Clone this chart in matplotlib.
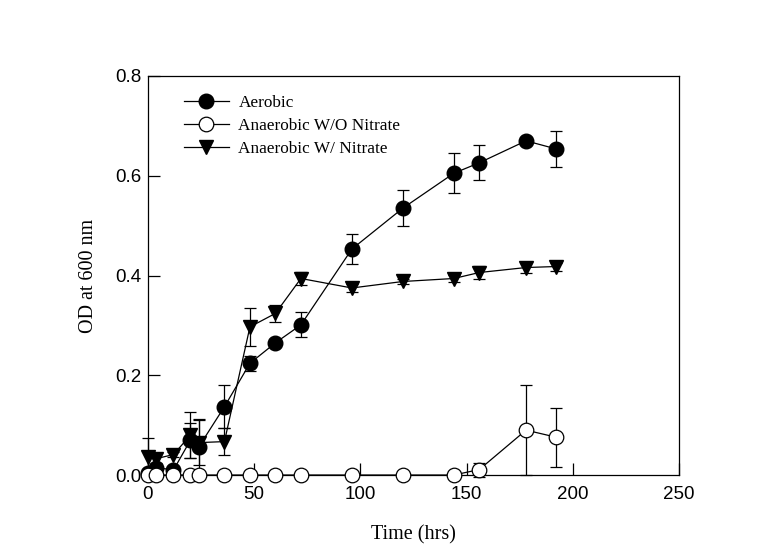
import matplotlib
matplotlib.use("Agg")
import matplotlib.pyplot as plt
from matplotlib.lines import Line2D

time_hrs = [0, 4, 12, 20, 24, 36, 48, 60, 72, 96, 120, 144, 156, 178, 192]

aerobic = [0.005, 0.015, 0.010, 0.070, 0.057, 0.137, 0.224, 0.265, 0.301,
           0.453, 0.535, 0.605, 0.626, 0.670, 0.654]
aerobic_err = [0.005, 0.010, 0.005, 0.035, 0.055, 0.043, 0.015, 0.008, 0.025,
               0.030, 0.036, 0.040, 0.035, 0.005, 0.036]

no_nitrate = [0, 0, 0, 0, 0, 0, 0, 0, 0, 0, 0, 0, 0.011, 0.090, 0.076]
no_nitrate_err = [0, 0, 0, 0, 0, 0, 0, 0, 0, 0, 0, 0, 0.014, 0.090, 0.059]

nitrate = [0.037, 0.033, 0.041, 0.080, 0.065, 0.067, 0.297, 0.324, 0.394,
           0.375, 0.388, 0.394, 0.406, 0.416, 0.418]
nitrate_err = [0.037, 0.010, 0.005, 0.046, 0.045, 0.027, 0.038, 0.017, 0.013,
               0.008, 0.006, 0.008, 0.014, 0.010, 0.008]

series_labels = ["Aerobic", "Anaerobic W/O Nitrate", "Anaerobic W/ Nitrate"]

serif = "Liberation Serif"
sans = "Liberation Sans"

fig = plt.figure(figsize=(7.74, 5.44), dpi=100)
ax = fig.add_axes([0.1912, 0.1268, 0.686, 0.7335])

common = dict(color="black", lw=0.9, ms=10.5, capsize=4.5, elinewidth=0.9,
              capthick=0.9, clip_on=False)

ax.errorbar(time_hrs, aerobic, yerr=aerobic_err, marker="o", mfc="black",
            mec="black", zorder=3, **common)
ax.errorbar(time_hrs, nitrate, yerr=nitrate_err, marker="v", mfc="black",
            mec="black", zorder=3, **common)
ax.errorbar(time_hrs, no_nitrate, yerr=no_nitrate_err, marker="o", mfc="white",
            mec="black", mew=0.9, zorder=4, **common)

ax.set_xlim(0, 250)
ax.set_ylim(0, 0.8)
ax.set_xticks([0, 50, 100, 150, 200, 250])
ax.set_yticks([0.0, 0.2, 0.4, 0.6, 0.8])
ax.set_yticklabels(["0.0", "0.2", "0.4", "0.6", "0.8"])

ax.tick_params(direction="in", length=8.5, width=0.9, labelsize=13.5,
               top=False, right=False)
ax.tick_params(axis="x", pad=8)
ax.tick_params(axis="y", pad=5)
for lab in ax.get_xticklabels() + ax.get_yticklabels():
    lab.set_fontfamily(sans)

for sp in ax.spines.values():
    sp.set_linewidth(0.9)

ax.set_xlabel("Time (hrs)", fontsize=14.5, fontfamily=serif, labelpad=16)
ax.set_ylabel("OD at 600 nm", fontsize=14.5, fontfamily=serif, labelpad=12)

handles = [
    Line2D([], [], color="black", lw=0.9, marker="o", ms=10.5, mfc="black"),
    Line2D([], [], color="black", lw=0.9, marker="o", ms=10.5, mfc="white",
           mew=0.9),
    Line2D([], [], color="black", lw=0.9, marker="v", ms=10.5, mfc="black"),
]
ax.legend(handles, series_labels, loc="upper left",
          bbox_to_anchor=(0.055, 0.97), frameon=False,
          prop={"family": serif, "size": 12.4}, handlelength=2.6,
          handletextpad=0.55, labelspacing=0.4, borderaxespad=0)

fig.savefig("out.png", dpi=100)
